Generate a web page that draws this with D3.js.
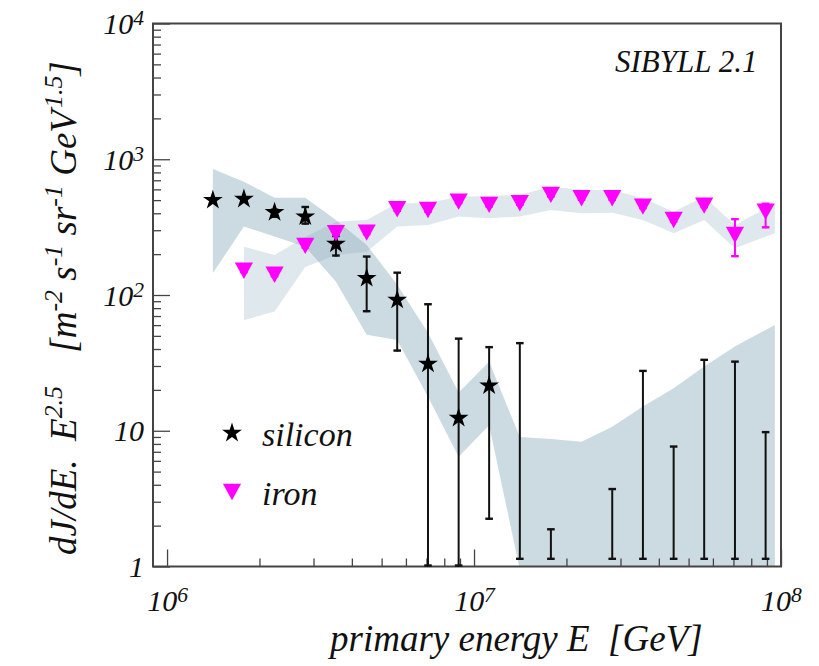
<!DOCTYPE html>
<html>
<head>
<meta charset="utf-8">
<script src="https://cdn.jsdelivr.net/npm/d3@7"></script>
<style>
  body { margin: 0; background: #fff; }
  text { font-family: "Liberation Serif", "Times New Roman", Times, serif; font-style: italic; fill: #111; }
</style>
</head>
<body>
<svg id="chart" width="819" height="666"></svg>
<script>
// ---- data -------------------------------------------------------------
// energy bin centres [GeV]
const siliconEnergy = [1.41e6, 1.78e6, 2.24e6, 2.82e6, 3.55e6, 4.47e6, 5.62e6, 7.08e6, 8.91e6,
                       1.12e7, 1.41e7, 1.78e7, 2.24e7, 2.82e7, 3.55e7, 4.47e7, 5.62e7, 7.08e7, 8.91e7];
// dJ/dE * E^2.5 for silicon (null: below the plotted range)
const siliconFlux  = [500, 510, 407, 378, 238, 133, 92, 31.1, 12.4, 21.5,
                      null, null, null, null, null, null, null, null, null];
const siliconUpper = [515, 525, 425, 445, 272, 192, 146, 85.5, 47.7, 41.3,
                      44.2, 1.88, null, 3.72, 27.6, 7.65, 33.3, 32.3, 9.77];
const siliconLower = [485, 495, 370, 330, 192, 74.7, 38.3, 1, 1, 2.21,
                      1.12, 1.12, null, 1.12, 1.12, 1.12, 1.12, 1.12, 1.12];

const ironEnergy = [1.78e6, 2.24e6, 2.82e6, 3.55e6, 4.47e6, 5.62e6, 7.08e6, 8.91e6,
                    1.12e7, 1.41e7, 1.78e7, 2.24e7, 2.82e7, 3.55e7, 4.47e7, 5.62e7, 7.08e7, 8.91e7];
const ironFlux  = [151, 141, 230, 285, 288, 428, 423, 487, 461, 474, 546, 516, 516, 448, 357, 455, 277, 411];
const ironUpper = [157, 147, 240, 297, 300, 446, 441, 507, 480, 494, 569, 538, 538, 467, 372, 474, 362, 470];
const ironLower = [145, 135, 220, 273, 276, 410, 405, 467, 442, 454, 523, 494, 494, 429, 342, 436, 190, 310];

// systematic bands (upper / lower envelope)
const siliconBandEnergy = [1.41e6, 1.78e6, 2.24e6, 2.82e6, 3.55e6, 4.47e6, 5.62e6, 7.08e6, 8.91e6,
                           1.12e7, 1.41e7, 1.78e7, 2.24e7, 2.82e7, 3.55e7, 4.47e7, 5.62e7, 7.08e7, 9.55e7];
const siliconBandUpper = [849, 684, 521, 521, 357, 234, 119, 52.7, 19.1, 32.2,
                          9.0, 8.7, 8.3, 10.7, 15.1, 20.6, 29.7, 41.7, 60.2];
const siliconBandLower = [145, 319, 270, 227, 125, 50.9, 46.7, 17.8, 6.43, 11.0,
                          0.95, 0.5, 0.5, 0.5, 0.5, 0.5, 0.5, 0.5, 0.5];

const ironBandEnergy = [1.78e6, 2.24e6, 2.82e6, 3.55e6, 4.47e6, 5.62e6, 7.08e6, 8.91e6,
                        1.12e7, 1.41e7, 1.78e7, 2.24e7, 2.82e7, 3.55e7, 4.47e7, 5.62e7, 7.08e7, 9.55e7];
const ironBandUpper = [227, 197, 267, 347, 357, 474, 474, 530, 537, 546, 629, 594, 594, 516, 411, 530, 328, 474];
const ironBandLower = [65.3, 75.5, 161, 197, 208, 319, 328, 378, 368, 378, 423, 400, 404, 357, 285, 357, 221, 285];

const xMajorTicks = [1e6, 1e7, 1e8];
const yMajorTicks = [1, 10, 100, 1000, 10000];

// ---- layout ----------------------------------------------------------
const plot = { left: 153, right: 781, top: 23.5, bottom: 566.5 };
const svg = d3.select("#chart");

const x = d3.scaleLog().domain([9e5, 1e8]).range([plot.left, plot.right]);
const y = d3.scaleLog().domain([1, 1e4]).range([plot.bottom, plot.top]);

svg.append("defs").append("clipPath").attr("id", "plotClip")
  .append("rect")
  .attr("x", plot.left).attr("y", plot.top)
  .attr("width", plot.right - plot.left).attr("height", plot.bottom - plot.top);

const bandColor = "rgb(139,171,187)";
const area = d3.area()
  .x(d => x(d.e))
  .y0(d => y(d.lo))
  .y1(d => y(d.hi));

const siliconBand = siliconBandEnergy.map((e, i) => ({ e, lo: siliconBandLower[i], hi: siliconBandUpper[i] }));
const ironBand = ironBandEnergy.map((e, i) => ({ e, lo: ironBandLower[i], hi: ironBandUpper[i] }));

const bands = svg.append("g").attr("clip-path", "url(#plotClip)");
bands.append("path").attr("d", area(siliconBand)).attr("fill", bandColor).attr("fill-opacity", 0.44);
bands.append("path").attr("d", area(ironBand)).attr("fill", bandColor).attr("fill-opacity", 0.28);

// ---- axes ------------------------------------------------------------
const minorOf = (lo, hi) => {
  const out = [];
  for (let p = lo; p < hi; p *= 10) for (let k = 2; k <= 9; k++) out.push(k * p);
  return out;
};
const supLabel = (sel, supShift) => {
  sel.each(function (d) {
    const t = d3.select(this);
    const ex = Math.round(Math.log10(d));
    t.text(null);
    if (ex <= 1) { t.text(String(d)); return; }
    t.append("tspan").text("10");
    t.append("tspan").attr("dy", supShift).attr("font-size", "0.72em").text(ex);
  });
};

const axisColor = "#444";

// left axis
const yMajor = svg.append("g").attr("transform", `translate(${plot.left},0)`)
  .call(d3.axisLeft(y).tickValues(yMajorTicks).tickSizeInner(-17).tickSizeOuter(0).tickPadding(9));
const yMinor = svg.append("g").attr("transform", `translate(${plot.left},0)`)
  .call(d3.axisLeft(y).tickValues(minorOf(1, 1e4)).tickSizeInner(-8).tickSizeOuter(0).tickFormat(""));
[yMajor, yMinor].forEach(g => {
  g.select(".domain").remove();
  g.selectAll(".tick line").attr("stroke", axisColor).attr("stroke-width", 1.3);
});
yMajor.selectAll(".tick text")
  .attr("font-size", 30).attr("dy", "0.34em").attr("fill", "#111")
  .call(supLabel, "-0.42em");

// bottom axis
const xMajor = svg.append("g").attr("transform", `translate(0,${plot.bottom})`)
  .call(d3.axisBottom(x).tickValues(xMajorTicks).tickSizeInner(-17).tickSizeOuter(0).tickPadding(23));
const xMinor = svg.append("g").attr("transform", `translate(0,${plot.bottom})`)
  .call(d3.axisBottom(x).tickValues(minorOf(1e6, 1e8)).tickSizeInner(-8).tickSizeOuter(0).tickFormat(""));
[xMajor, xMinor].forEach(g => {
  g.select(".domain").remove();
  g.selectAll(".tick line").attr("stroke", axisColor).attr("stroke-width", 1.3);
});
xMajor.selectAll(".tick text")
  .attr("font-size", 30).attr("dy", "0.71em").attr("fill", "#111")
  .call(supLabel, "-0.42em");

// frame
svg.append("rect")
  .attr("x", plot.left).attr("y", plot.top)
  .attr("width", plot.right - plot.left).attr("height", plot.bottom - plot.top)
  .attr("fill", "none").attr("stroke", axisColor).attr("stroke-width", 2);

// ---- error bars --------------------------------------------------------
const yClamp = v => y(Math.max(v, 1));
const capW = 3.8;

function errorBars(energy, upper, lower, color) {
  const rows = energy.map((e, i) => ({ e, hi: upper[i], lo: lower[i] })).filter(d => d.hi != null);
  const g = svg.append("g").attr("stroke", color).attr("stroke-width", 2).attr("fill", "none");
  g.selectAll("line.bar").data(rows).join("line").attr("class", "bar")
    .attr("x1", d => x(d.e)).attr("x2", d => x(d.e))
    .attr("y1", d => yClamp(d.hi)).attr("y2", d => yClamp(d.lo));
  g.selectAll("line.capHi").data(rows).join("line").attr("class", "capHi")
    .attr("x1", d => x(d.e) - capW).attr("x2", d => x(d.e) + capW)
    .attr("y1", d => yClamp(d.hi)).attr("y2", d => yClamp(d.hi)).attr("stroke-width", 2.4);
  g.selectAll("line.capLo").data(rows).join("line").attr("class", "capLo")
    .attr("x1", d => x(d.e) - capW).attr("x2", d => x(d.e) + capW)
    .attr("y1", d => yClamp(d.lo) - 1).attr("y2", d => yClamp(d.lo) - 1).attr("stroke-width", 2.4);
}
errorBars(siliconEnergy, siliconUpper, siliconLower, "#111");
errorBars(ironEnergy, ironUpper, ironLower, "#ff00ff");

// ---- markers ---------------------------------------------------------
const downTriangle = {
  draw(ctx, size) {
    const w = Math.sqrt(size) * 1.06, h = w * 0.9;
    ctx.moveTo(-w / 2, -h / 2);
    ctx.lineTo(w / 2, -h / 2);
    ctx.lineTo(0, h / 2);
    ctx.closePath();
  }
};
const starPath = d3.symbol().type(d3.symbolStar).size(122)();
const triPath = d3.symbol().type(downTriangle).size(295)();

svg.append("g").selectAll("path")
  .data(siliconEnergy.map((e, i) => ({ e, v: siliconFlux[i] })).filter(d => d.v != null))
  .join("path")
  .attr("d", starPath)
  .attr("transform", d => `translate(${x(d.e)},${y(d.v)})`)
  .attr("fill", "#000");

svg.append("g").selectAll("path")
  .data(ironEnergy.map((e, i) => ({ e, v: ironFlux[i] })))
  .join("path")
  .attr("d", triPath)
  .attr("transform", d => `translate(${x(d.e)},${y(d.v)})`)
  .attr("fill", "#ff00ff");

// ---- legend and labels -------------------------------------------------
const legend = svg.append("g");
legend.append("path").attr("d", starPath).attr("transform", "translate(232,433)").attr("fill", "#000");
legend.append("text").attr("x", 262).attr("y", 446).attr("font-size", 34).text("silicon");
legend.append("path").attr("d", triPath).attr("transform", "translate(232,492)").attr("fill", "#ff00ff");
legend.append("text").attr("x", 262).attr("y", 505).attr("font-size", 34).text("iron");

svg.append("text").attr("x", 615).attr("y", 72).attr("font-size", 31).text("SIBYLL 2.1");

svg.append("text")
  .attr("x", 330).attr("y", 651).attr("font-size", 37)
  .style("white-space", "pre")
  .text("primary energy E  [GeV]");

// y title with superscripted exponents; each entry: text, superscript?, extra gap before (em)
const yTitle = svg.append("text")
  .attr("transform", "translate(76,555) rotate(-90)")
  .attr("font-size", 37)
  .style("white-space", "pre");
const yParts = [["dJ/dE.", false, 0], [" E", false, 0.25], ["2.5", true, 0], [" [m", false, 0.65],
                ["-2", true, 0], [" s", false, 0], ["-1", true, 0], [" sr", false, 0], ["-1", true, 0],
                [" GeV", false, 0], ["1.5", true, 0.08], ["]", false, 0]];
let raised = false;
yParts.forEach(([txt, sup, gap]) => {
  const ts = yTitle.append("tspan").text(txt);
  if (gap) ts.attr("dx", `${gap}em`);
  if (sup && !raised) { ts.attr("dy", "-0.55em").attr("font-size", "0.7em"); raised = true; }
  else if (!sup && raised) { ts.attr("dy", "0.385em"); raised = false; }
});
</script>
</body>
</html>
